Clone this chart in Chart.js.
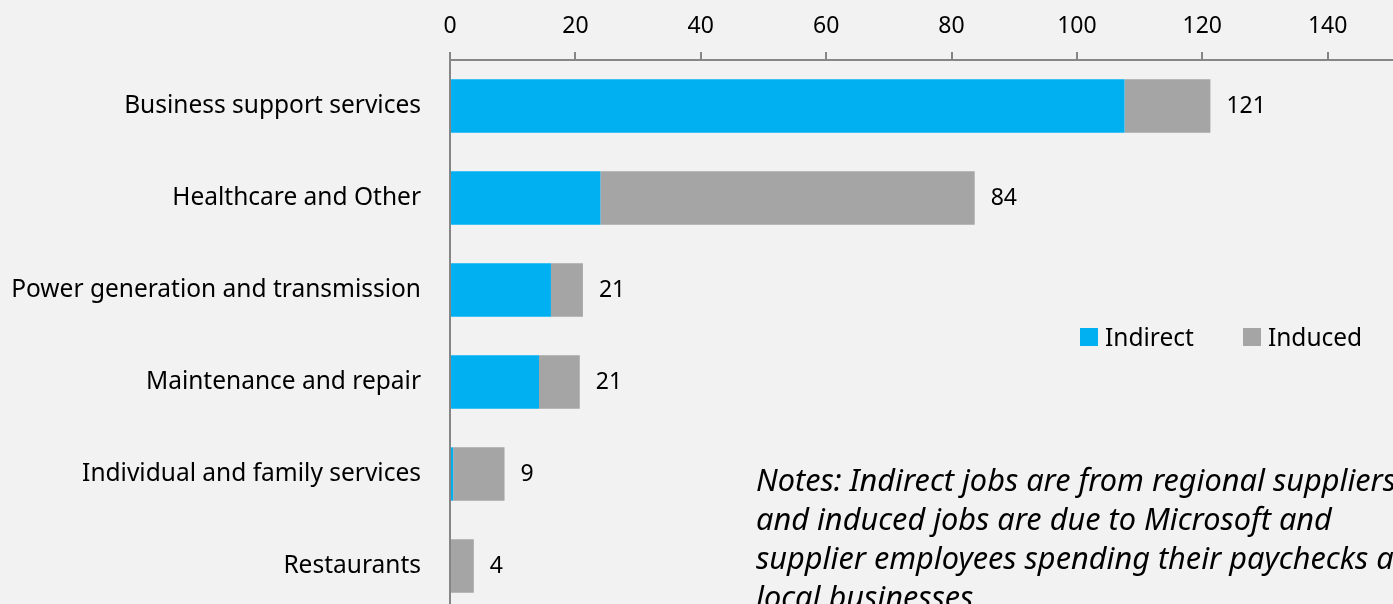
<!DOCTYPE html>
<html><head><meta charset="utf-8">
<script src="https://cdn.jsdelivr.net/npm/chart.js@4"></script>
<style>
html,body{margin:0;padding:0;background:#f2f2f2;overflow:hidden;width:1393px;height:604px;}
#wrap{position:relative;width:1393px;height:604px;overflow:hidden;background:#f2f2f2;}
#box{position:absolute;left:0;top:0;width:1453px;height:612px;}
#legend{position:absolute;left:1080px;top:322px;font:24.5px 'Noto Sans',sans-serif;line-height:30px;color:#000;white-space:nowrap;display:flex;}
#legend .item{display:flex;align-items:center;}
#legend .sw{width:18px;height:18px;display:inline-block;margin-right:7px;}
#notes{position:absolute;left:756px;top:460px;font:italic 30.7px 'Noto Sans',sans-serif;line-height:39px;white-space:nowrap;color:#000;}
</style></head>
<body>
<div id="wrap">
<div id="box"><canvas id="c"></canvas></div>
<div id="legend"></div>
<div id="notes"></div>
</div>
<script>
const categories = ["Business support services","Healthcare and Other","Power generation and transmission","Maintenance and repair","Individual and family services","Restaurants"];
const seriesNames = ["Indirect","Induced"];
const seriesColors = ["#00b0f0","#a5a5a5"];
const indirect = [107.6, 24.0, 16.1, 14.2, 0.5, 0];
const induced = [13.7, 59.7, 5.1, 6.5, 8.2, 3.8];
const totals = [121, 84, 21, 21, 9, 4];
const xMin = 0, xMax = 160, xStep = 20;
const noteLines = ["Notes: Indirect jobs are from regional suppliers","and induced jobs are due to Microsoft and","supplier employees spending their paychecks at","local businesses"];

const FONT = "'Noto Sans', sans-serif";
const AXIS = "#868686";

const totalsPlugin = {
  id:'totals',
  afterDatasetsDraw(chart){
    const ctx = chart.ctx;
    const meta = chart.getDatasetMeta(1);
    ctx.save();
    ctx.font = "23px " + FONT;
    ctx.fillStyle = "#000";
    ctx.textAlign = "left";
    ctx.textBaseline = "middle";
    meta.data.forEach((el,i)=>{
      ctx.fillText(String(totals[i]), el.x + 16, el.y);
    });
    ctx.restore();
  }
};

new Chart(document.getElementById('c'), {
  type:'bar',
  data:{
    labels:categories,
    datasets:[
      {label:seriesNames[0], data:indirect, backgroundColor:seriesColors[0], barPercentage:0.58, categoryPercentage:1},
      {label:seriesNames[1], data:induced, backgroundColor:seriesColors[1], barPercentage:0.58, categoryPercentage:1}
    ]
  },
  options:{
    indexAxis:'y',
    responsive:true,
    maintainAspectRatio:false,
    animation:false,
    layout:{padding:0},
    plugins:{legend:{display:false}, tooltip:{enabled:false}},
    scales:{
      x:{
        type:'linear', position:'top', stacked:true, min:xMin, max:xMax,
        ticks:{stepSize:xStep, color:'#000', font:{family:FONT, size:23}, padding:12},
        grid:{drawOnChartArea:false, drawTicks:true, tickLength:8, color:AXIS, lineWidth:2},
        border:{display:true, color:AXIS, width:2},
        afterFit(s){ s.height = 60; s.paddingLeft = 0; s.paddingRight = 0; }
      },
      y:{
        stacked:true,
        ticks:{color:'#000', font:{family:FONT, size:24.5}, padding:29},
        grid:{display:true, drawOnChartArea:false, drawTicks:false},
        border:{display:true, color:AXIS, width:2},
        afterFit(s){ s.width = 450; s.paddingTop = 0; s.paddingBottom = 0; }
      }
    }
  },
  plugins:[totalsPlugin]
});

const lg = document.getElementById('legend');
seriesNames.forEach((n,i)=>{
  const it = document.createElement('div'); it.className='item';
  it.style.marginRight = i===0 ? '49px' : '0';
  const sw = document.createElement('span'); sw.className='sw'; sw.style.background = seriesColors[i];
  const tx = document.createElement('span'); tx.textContent = n;
  it.appendChild(sw); it.appendChild(tx); lg.appendChild(it);
});
document.getElementById('notes').innerHTML = noteLines.map(l=>l.replace(/&/g,'&amp;')).join('<br>');
</script>
</body></html>
